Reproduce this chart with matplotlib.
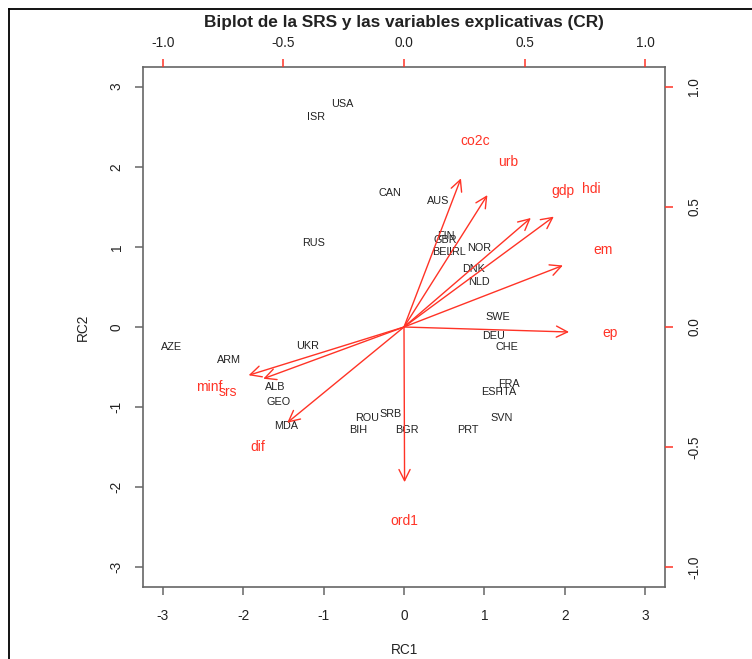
import matplotlib
matplotlib.use("Agg")
import matplotlib.pyplot as plt
from matplotlib.lines import Line2D

plt.rcParams['font.family'] = ['Liberation Sans', 'DejaVu Sans']

# Component scores (RC1, RC2) for each country
countries = ["USA", "ISR", "CAN", "AUS", "RUS", "FIN", "GBR", "BEL", "IRL", "NOR",
             "DNK", "NLD", "SWE", "DEU", "CHE", "FRA", "ESP", "ITA", "SVN", "PRT",
             "BGR", "SRB", "ROU", "BIH", "MDA", "GEO", "ALB", "UKR", "ARM", "AZE"]
rc1 = [-0.77, -1.10, -0.17, 0.43, -1.13, 0.52, 0.51, 0.48, 0.66, 0.93,
       0.87, 0.93, 1.17, 1.11, 1.28, 1.31, 1.09, 1.30, 1.22, 0.80,
       0.03, -0.17, -0.46, -0.57, -1.47, -1.56, -1.60, -1.20, -2.18, -2.89]
rc2 = [2.78, 2.62, 1.67, 1.57, 1.05, 1.13, 1.08, 0.94, 0.93, 0.98,
       0.72, 0.56, 0.12, -0.11, -0.25, -0.71, -0.81, -0.81, -1.14, -1.28,
       -1.28, -1.08, -1.14, -1.28, -1.23, -0.93, -0.75, -0.24, -0.41, -0.25]

# Variable loadings
variables = ["co2c", "urb", "gdp", "hdi", "em", "ep", "minf", "srs", "dif", "ord1"]
load1 = [0.295, 0.432, 0.657, 0.776, 0.823, 0.855, -0.805, -0.729, -0.605, 0.003]
load2 = [0.773, 0.686, 0.567, 0.574, 0.320, -0.026, -0.251, -0.269, -0.498, -0.807]

score_ticks = [-3, -2, -1, 0, 1, 2, 3]
load_ticks = [-1.0, -0.5, 0.0, 0.5, 1.0]

RED = "#ff3326"
GRAY = "#666666"
TXT = "#222222"

W, H = 752, 659
fig = plt.figure(figsize=(W / 100, H / 100), dpi=100)
fig.patch.set_facecolor("white")

pos = [143 / W, (H - 587) / H, 522 / W, 520 / H]
lim = 3.245

# Scores axes
ax = fig.add_axes(pos)
ax.set_xlim(-lim, lim)
ax.set_ylim(-lim, lim)
for s in ax.spines.values():
    s.set_color(GRAY)
    s.set_linewidth(1.2)
ax.set_xticks(score_ticks)
ax.set_yticks(score_ticks)
ax.set_xticklabels([str(t) for t in score_ticks])
ax.set_yticklabels([str(t) for t in score_ticks], rotation=90, va="center")
ax.tick_params(axis="both", direction="out", length=6, width=1.1, color=GRAY,
               labelsize=9.8, labelcolor=TXT)
ax.tick_params(axis="x", pad=10)
ax.tick_params(axis="y", pad=8)
ax.set_xlabel("RC1", fontsize=9.8, color=TXT, labelpad=14)
ax.set_ylabel("RC2", fontsize=9.8, color=TXT, labelpad=14)

for name, x, y in zip(countries, rc1, rc2):
    ax.text(x, y, name, fontsize=7.8, color=TXT, ha="center", va="center")

# Loadings axes (top / right)
ax2 = fig.add_axes(pos)
ax2.patch.set_visible(False)
for s in ax2.spines.values():
    s.set_visible(False)
ax2.set_xlim(-lim / 3, lim / 3)
ax2.set_ylim(-lim / 3, lim / 3)
ax2.xaxis.set_ticks_position("top")
ax2.xaxis.set_label_position("top")
ax2.yaxis.set_ticks_position("right")
ax2.yaxis.set_label_position("right")
ax2.set_xticks(load_ticks)
ax2.set_yticks(load_ticks)
ax2.set_xticklabels([f"{t:.1f}" for t in load_ticks])
ax2.set_yticklabels([f"{t:.1f}" for t in load_ticks], rotation=90, va="center")
ax2.tick_params(axis="both", direction="out", length=6, width=1.1, color=RED,
                labelsize=9.8, labelcolor=TXT)
ax2.tick_params(axis="x", pad=6)
ax2.tick_params(axis="y", pad=10)

for name, x, y in zip(variables, load1, load2):
    ax2.annotate("", xy=(0.8 * x, 0.8 * y), xytext=(0, 0),
                 arrowprops=dict(arrowstyle="->,head_length=0.8,head_width=0.4",
                                 color=RED, lw=1.0, shrinkA=0, shrinkB=0))
    ax2.text(x, y, name, fontsize=10, color=RED, ha="center", va="center")

fig.text(404 / W, 1 - 22 / H, "Biplot de la SRS y las variables explicativas (CR)",
         fontsize=12.4, fontweight="bold", color=TXT, ha="center", va="center")

# Outer frame (left and top edges)
fig.add_artist(Line2D([9 / W, 9 / W], [0, 1 - 9 / H], color="black", lw=1.3,
                      transform=fig.transFigure))
fig.add_artist(Line2D([9 / W, 1], [1 - 9 / H, 1 - 9 / H], color="black", lw=1.3,
                      transform=fig.transFigure))

fig.savefig("out.png", dpi=100)
